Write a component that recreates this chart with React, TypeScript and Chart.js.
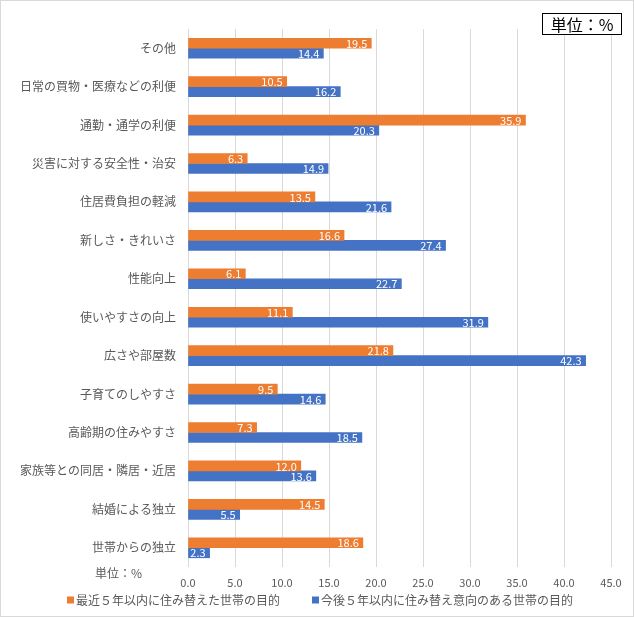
import React, { useEffect, useRef } from "react";
import { Chart, registerables } from "chart.js";

Chart.register(...registerables);

const categories = [
  "その他",
  "日常の買物・医療などの利便",
  "通勤・通学の利便",
  "災害に対する安全性・治安",
  "住居費負担の軽減",
  "新しさ・きれいさ",
  "性能向上",
  "使いやすさの向上",
  "広さや部屋数",
  "子育てのしやすさ",
  "高齢期の住みやすさ",
  "家族等との同居・隣居・近居",
  "結婚による独立",
  "世帯からの独立",
];
const recentValues = [19.5, 10.5, 35.9, 6.3, 13.5, 16.6, 6.1, 11.1, 21.8, 9.5, 7.3, 12.0, 14.5, 18.6];
const futureValues = [14.4, 16.2, 20.3, 14.9, 21.6, 27.4, 22.7, 31.9, 42.3, 14.6, 18.5, 13.6, 5.5, 2.3];
const seriesNames = ["最近５年以内に住み替えた世帯の目的", "今後５年以内に住み替え意向のある世帯の目的"];
const unitText = "単位：%";

const FONT = "'Noto Sans CJK JP', 'Noto Sans', sans-serif";
const ORANGE = "#ED7D31";
const BLUE = "#4472C4";
const GRAY_TEXT = "#595959";

const labelsPlugin = {
  id: "customLabels",
  afterDatasetsDraw(chart: any) {
    const ctx = chart.ctx;
    ctx.save();
    ctx.font = `11px ${FONT}`;
    ctx.fillStyle = "#ffffff";
    ctx.textAlign = "right";
    ctx.textBaseline = "middle";
    chart.data.datasets.forEach((ds: any, di: number) => {
      const meta = chart.getDatasetMeta(di);
      meta.data.forEach((bar: any, i: number) => {
        const v = ds.data[i];
        ctx.fillText(v.toFixed(1), bar.x - 4, bar.y + 0.5);
      });
    });
    ctx.restore();
  },
  afterDraw(chart: any) {
    const ctx = chart.ctx;
    ctx.save();
    ctx.font = `12px ${FONT}`;
    ctx.textBaseline = "middle";
    ctx.textAlign = "left";
    ctx.fillStyle = GRAY_TEXT;
    ctx.fillText(unitText, 95, 573);
    const items = [
      { x: 67, color: ORANGE, text: seriesNames[0] },
      { x: 312, color: BLUE, text: seriesNames[1] },
    ];
    const ly = 600;
    items.forEach((it) => {
      ctx.fillStyle = it.color;
      ctx.fillRect(it.x, ly - 3.5, 7, 7);
      ctx.fillStyle = GRAY_TEXT;
      ctx.fillText(it.text, it.x + 9, ly);
    });
    ctx.restore();
  },
};

export default function App() {
  const canvasRef = useRef<HTMLCanvasElement | null>(null);

  useEffect(() => {
    document.body.style.margin = "0";
    const canvas = canvasRef.current;
    if (!canvas) return;
    const chart = new Chart(canvas, {
      type: "bar",
      data: {
        labels: categories,
        datasets: [
          { label: seriesNames[0], data: recentValues, backgroundColor: ORANGE, barThickness: 10 },
          { label: seriesNames[1], data: futureValues, backgroundColor: BLUE, barThickness: 10 },
        ],
      },
      options: {
        indexAxis: "y",
        animation: false,
        responsive: false,
        maintainAspectRatio: false,
        layout: { padding: { left: 0, right: 23, top: 29, bottom: 28 } },
        plugins: {
          legend: { display: false },
          tooltip: { enabled: false },
        },
        scales: {
          x: {
            min: 0,
            max: 45,
            ticks: {
              stepSize: 5,
              padding: 9,
              color: GRAY_TEXT,
              font: { family: FONT, size: 11 },
              callback: (v: any) => Number(v).toFixed(1),
            },
            grid: { color: "#D9D9D9", drawTicks: false },
            border: { display: false },
            afterFit: (scale: any) => {
              scale.height = 22;
            },
          },
          y: {
            ticks: {
              padding: 12,
              color: GRAY_TEXT,
              font: { family: FONT, size: 12 },
              autoSkip: false,
            },
            grid: { display: false, drawTicks: false },
            border: { display: false },
            afterFit: (scale: any) => {
              scale.width = 188;
            },
          },
        },
      },
      plugins: [labelsPlugin],
    } as any);
    return () => chart.destroy();
  }, []);

  return (
    <div style={{ position: "relative", width: 634, height: 617, background: "#fff" }}>
      <canvas ref={canvasRef} width={634} height={617} style={{ position: "absolute", left: 0, top: 0 }} />
      <div
        style={{
          position: "absolute",
          left: 0,
          top: 0,
          width: 634,
          height: 617,
          boxSizing: "border-box",
          border: "1px solid #D9D9D9",
          pointerEvents: "none",
        }}
      />
      <div
        style={{
          position: "absolute",
          left: 542,
          top: 13,
          width: 80,
          height: 22,
          boxSizing: "border-box",
          border: "1px solid #000",
          background: "#fff",
          fontFamily: FONT,
          fontSize: 16,
          lineHeight: "20px",
          textAlign: "center",
          color: "#000",
        }}
      >
        {unitText}
      </div>
    </div>
  );
}
